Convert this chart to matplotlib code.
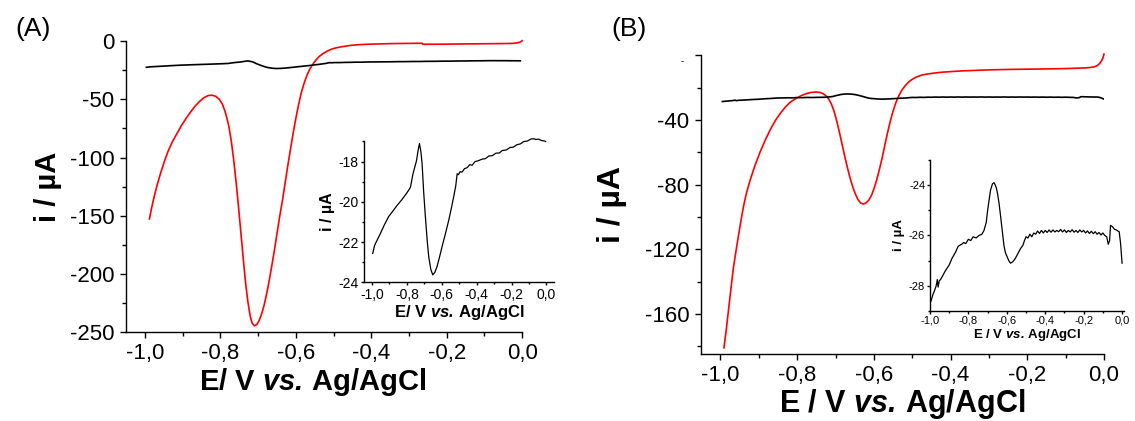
import numpy as np
import matplotlib.pyplot as plt
from matplotlib.ticker import MultipleLocator, FuncFormatter

plt.rcParams['font.family'] = ['Liberation Sans', 'DejaVu Sans']
plt.rcParams['mathtext.fontset'] = 'custom'
plt.rcParams['mathtext.rm'] = 'Liberation Sans'
plt.rcParams['mathtext.it'] = 'Liberation Sans:italic'
plt.rcParams['mathtext.bf'] = 'Liberation Sans:bold'
plt.rcParams['mathtext.bfit'] = 'Liberation Sans:italic:bold'

# ---- panel A: red curve (main axes)
ea_red = [-0.988, -0.982, -0.975, -0.967, -0.958, -0.949, -0.939, -0.928, -0.916, -0.904,
          -0.891, -0.878, -0.866, -0.854, -0.843, -0.832, -0.822, -0.812, -0.803, -0.795,
          -0.788, -0.782, -0.777, -0.771, -0.765, -0.758, -0.752, -0.746, -0.739, -0.733,
          -0.727, -0.721, -0.716, -0.71, -0.704, -0.698, -0.692, -0.685, -0.678, -0.671,
          -0.664, -0.657, -0.65, -0.643, -0.635, -0.628, -0.621, -0.614, -0.607, -0.6,
          -0.593, -0.586, -0.578, -0.57, -0.562, -0.554, -0.546, -0.537, -0.528, -0.518,
          -0.507, -0.495, -0.483, -0.47, -0.455, -0.436, -0.41, -0.38, -0.341, -0.3,
          -0.266, -0.263, -0.2, -0.152, -0.1, -0.05, -0.025, -0.015, -0.008, -0.003,
          0.0]
ia_red = [-152.7, -143, -133, -123, -113, -104, -95, -87, -80, -73,
          -66.5, -60.5, -55.5, -51.5, -48.5, -46.8, -46.5, -47.5, -50, -54,
          -60, -67, -74, -86, -101, -121.9, -142, -163, -188, -208,
          -224, -236, -242, -244.4, -243.5, -240.5, -235.5, -228, -218, -206.5,
          -193.5, -180, -165.5, -151, -136, -121, -106.5, -92.5, -79, -66.5,
          -55, -45, -36.2, -29, -23.5, -19.5, -16, -13, -10.8, -8.9,
          -7.2, -6, -5.2, -4.5, -3.8, -3.2, -2.8, -2.5, -2.2, -2.05,
          -1.9, -2.8, -2.7, -2.5, -2.35, -2.2, -2.05, -1.7, -1.2, -0.5,
          0.3]

# ---- panel A: black curve (main axes and inset)
ea_blk = [-0.996, -0.985, -0.968, -0.952, -0.93, -0.904, -0.88, -0.857, -0.83, -0.80,
          -0.78, -0.765, -0.745, -0.735, -0.728, -0.72, -0.713, -0.704, -0.694, -0.684,
          -0.675, -0.663, -0.652, -0.64, -0.627, -0.612, -0.598, -0.58, -0.56, -0.545,
          -0.532, -0.52, -0.512, -0.505, -0.495, -0.484, -0.47, -0.455, -0.44, -0.426,
          -0.41, -0.39, -0.37, -0.35, -0.33, -0.31, -0.29, -0.27, -0.254, -0.23,
          -0.21, -0.19, -0.17, -0.15, -0.13, -0.11, -0.09, -0.075, -0.06, -0.045,
          -0.03, -0.015, -0.005]
ia_blk = [-22.56, -22.15, -21.85, -21.57, -21.15, -20.72, -20.45, -20.18, -19.9, -19.55,
          -19.28, -18.6, -17.95, -17.4, -17.1, -17.5, -18.1, -19.5, -20.75, -21.9,
          -22.72, -23.35, -23.62, -23.5, -23.2, -22.7, -22.2, -21.6, -20.9, -20.3,
          -19.75, -19.2, -18.6, -18.65, -18.5, -18.52, -18.35, -18.3, -18.15, -18.18,
          -18.0, -17.95, -17.88, -17.85, -17.72, -17.7, -17.58, -17.57, -17.45, -17.42,
          -17.3, -17.28, -17.16, -17.12, -17.0, -16.98, -16.88, -16.86, -16.9, -16.88,
          -16.95, -16.97, -17.0]

# ---- panel B: red curve (main axes)
eb_red = [-0.991, -0.985, -0.979, -0.972, -0.966, -0.959, -0.952, -0.946, -0.94, -0.932,
          -0.923, -0.911, -0.897, -0.883, -0.868, -0.856, -0.844, -0.83, -0.818, -0.806,
          -0.79, -0.775, -0.762, -0.749, -0.74, -0.732, -0.725, -0.718, -0.711, -0.704,
          -0.697, -0.69, -0.683, -0.676, -0.669, -0.662, -0.655, -0.648, -0.641, -0.634,
          -0.627, -0.62, -0.613, -0.606, -0.599, -0.592, -0.585, -0.578, -0.571, -0.564,
          -0.557, -0.55, -0.543, -0.535, -0.527, -0.518, -0.509, -0.499, -0.488, -0.476,
          -0.462, -0.44, -0.42, -0.367, -0.3, -0.24, -0.176, -0.1, -0.05, -0.035,
          -0.025, -0.018, -0.012, -0.007, -0.003, 0.0]
ib_red = [-181, -170, -157.5, -143, -131, -120.3, -110, -101.5, -93.5, -85,
          -77.5, -68.8, -60, -52.3, -45, -40, -35.9, -31.8, -29, -27.1,
          -25, -23.6, -22.9, -22.7, -23, -23.8, -25, -27, -30, -34.5,
          -40.5, -47.5, -55, -62.5, -69.5, -76, -81.5, -86, -89.5, -91.5,
          -92, -91.2, -89.5, -86.5, -82, -76.5, -70, -63, -55, -47.5,
          -40.5, -34.5, -29.5, -25, -21.5, -18.7, -16.4, -14.7, -13.3, -12.3,
          -11.6, -10.9, -10.4, -9.6, -9.0, -8.7, -8.5, -8.2, -7.8, -7.5,
          -7.1, -6.4, -5.2, -3.6, -1.7, 0.8]

# ---- panel B: black curve (main axes and inset)
eb_blk = [-0.995, -0.985, -0.978, -0.968, -0.962, -0.958, -0.952, -0.945, -0.934, -0.92,
          -0.9, -0.885, -0.866, -0.855, -0.848, -0.835, -0.825, -0.814, -0.80, -0.788,
          -0.775, -0.76, -0.745, -0.73, -0.719, -0.707, -0.7, -0.693, -0.685, -0.675,
          -0.667, -0.66, -0.655, -0.648, -0.641, -0.633, -0.624, -0.615, -0.607, -0.598,
          -0.59, -0.581, -0.57, -0.559, -0.548, -0.538, -0.527, -0.517, -0.508, -0.5,
          -0.49, -0.48, -0.47, -0.46, -0.45, -0.44, -0.43, -0.42, -0.41, -0.40,
          -0.39, -0.38, -0.37, -0.36, -0.35, -0.34, -0.33, -0.32, -0.31, -0.30,
          -0.29, -0.28, -0.27, -0.26, -0.25, -0.24, -0.23, -0.22, -0.21, -0.20,
          -0.19, -0.18, -0.17, -0.16, -0.15, -0.14, -0.13, -0.12, -0.11, -0.10,
          -0.09, -0.08, -0.072, -0.065, -0.06, -0.05, -0.04, -0.03, -0.022, -0.015,
          -0.008, -0.003, 0.0]
ib_blk = [-28.61, -28.35, -28.22, -28.0, -27.75, -28.05, -27.8, -27.75, -27.6, -27.4,
          -27.17, -26.9, -26.65, -26.45, -26.4, -26.35, -26.28, -26.32, -26.15, -26.2,
          -26.05, -26.1, -26.0, -25.95, -25.8, -25.47, -25.0, -24.62, -24.2, -23.95,
          -23.9, -24.0, -24.1, -24.35, -24.7, -25.2, -25.8, -26.4, -26.7, -26.85,
          -27.0, -27.1, -27.05, -26.95, -26.8, -26.65, -26.5, -26.4, -26.2, -26.05,
          -26.1, -25.95, -26.05, -25.9, -25.95, -25.82, -25.92, -25.8, -25.9, -25.8,
          -25.88, -25.78, -25.87, -25.78, -25.86, -25.8, -25.85, -25.76, -25.86, -25.78,
          -25.88, -25.8, -25.86, -25.77, -25.87, -25.8, -25.88, -25.78, -25.86, -25.8,
          -25.9, -25.82, -25.92, -25.83, -25.93, -25.85, -25.95, -25.88, -25.98, -25.9,
          -26.0, -26.05, -26.35, -26.2, -25.6, -25.65, -25.75, -25.78, -25.82, -25.85,
          -26.3, -26.8, -27.1]


def comma(v, pos):
    s = f"{v:.1f}".replace('.', ',')
    return '0,0' if s == '-0,0' else s


def intfmt(v, pos):
    return f"{v:.0f}"


def style(ax, xlim, ylim, ymaj, ymin, lsize, tlen, pad):
    ax.spines['top'].set_visible(False)
    ax.spines['right'].set_visible(False)
    for s in ('left', 'bottom'):
        ax.spines[s].set_linewidth(1.0)
    ax.set_xlim(*xlim)
    ax.set_ylim(*ylim)
    ax.xaxis.set_major_locator(MultipleLocator(0.2))
    ax.xaxis.set_minor_locator(MultipleLocator(0.1))
    ax.xaxis.set_major_formatter(FuncFormatter(comma))
    ax.yaxis.set_major_locator(MultipleLocator(ymaj))
    ax.yaxis.set_minor_locator(MultipleLocator(ymin))
    ax.yaxis.set_major_formatter(FuncFormatter(intfmt))
    ax.tick_params(which='major', direction='out', length=tlen, width=1.0,
                   labelsize=lsize, pad=pad)
    ax.tick_params(which='minor', direction='out', length=tlen * 0.6, width=1.0)


fig = plt.figure(figsize=(11.35, 4.21), dpi=100)

# ---------------- panel A
axA = fig.add_axes([0.1107, 0.2107, 0.3494, 0.6919])
axA.plot(ea_red, ia_red, color='#ff0000', lw=1.2, clip_on=False)
axA.plot(ea_blk, ia_blk, color='black', lw=1.2)
style(axA, (-1.051, 0.0), (-250, 0), 50, 25, 16, 4.5, 3.5)
axA.set_xlabel(r'E/ V $\mathbfit{vs.}\,$Ag/AgCl', fontsize=21, fontweight='bold', labelpad=2)
axA.xaxis.set_label_coords(0.472, -0.115)
axA.set_ylabel('i / µA', fontsize=21, fontweight='bold', labelpad=6)
fig.text(0.029, 0.93, '(A)', fontsize=19, ha='center', va='center')

insA = fig.add_axes([0.3207, 0.329, 0.1674, 0.3349])
insA.plot(ea_blk, ia_blk, color='black', lw=0.9, clip_on=False)
style(insA, (-1.046, 0.043), (-24, -17.0), 2, 1, 10, 2.5, 1.5)
insA.set_xlabel(r'E/ V $\mathbfit{vs.}\,$Ag/AgCl', fontsize=12, fontweight='bold', labelpad=1)
insA.set_ylabel('i / µA', fontsize=11.5, fontweight='bold', labelpad=2)

# ---------------- panel B
axB = fig.add_axes([0.6172, 0.1584, 0.3555, 0.7102])
axB.plot(eb_red, ib_red, color='#ff0000', lw=1.2, clip_on=False)
axB.plot(eb_blk, ib_blk, color='black', lw=1.2)
style(axB, (-1.052, 0.0), (-185, 0), 40, 20, 16, 4.5, 3.5)
axB.yaxis.set_major_formatter(FuncFormatter(lambda v, p: '' if abs(v) < 1e-9 else f"{v:.0f}"))
axB.text(-0.045, 0.98, '-', transform=axB.transAxes, fontsize=7, ha='center', va='center')
axB.set_xlabel(r'E / V $\mathbfit{vs.}\,$Ag/AgCl', fontsize=22, fontweight='bold', labelpad=0.5)
axB.set_ylabel('i / µA', fontsize=23, fontweight='bold', labelpad=13)
fig.text(0.554, 0.931, '(B)', fontsize=19, ha='center', va='center')

insB = fig.add_axes([0.8194, 0.2613, 0.1709, 0.3587])
insB.plot(eb_blk, ib_blk, color='black', lw=0.9)
style(insB, (-1.0, 0.01), (-29, -23), 2, 1, 8, 2.0, 1.5)
insB.set_xlabel(r'E / V $\mathbfit{vs.}\,$Ag/AgCl', fontsize=9.5, fontweight='bold', labelpad=1)
insB.set_ylabel('i / µA', fontsize=9.5, fontweight='bold', labelpad=3)

fig.savefig('out.png', dpi=100)
